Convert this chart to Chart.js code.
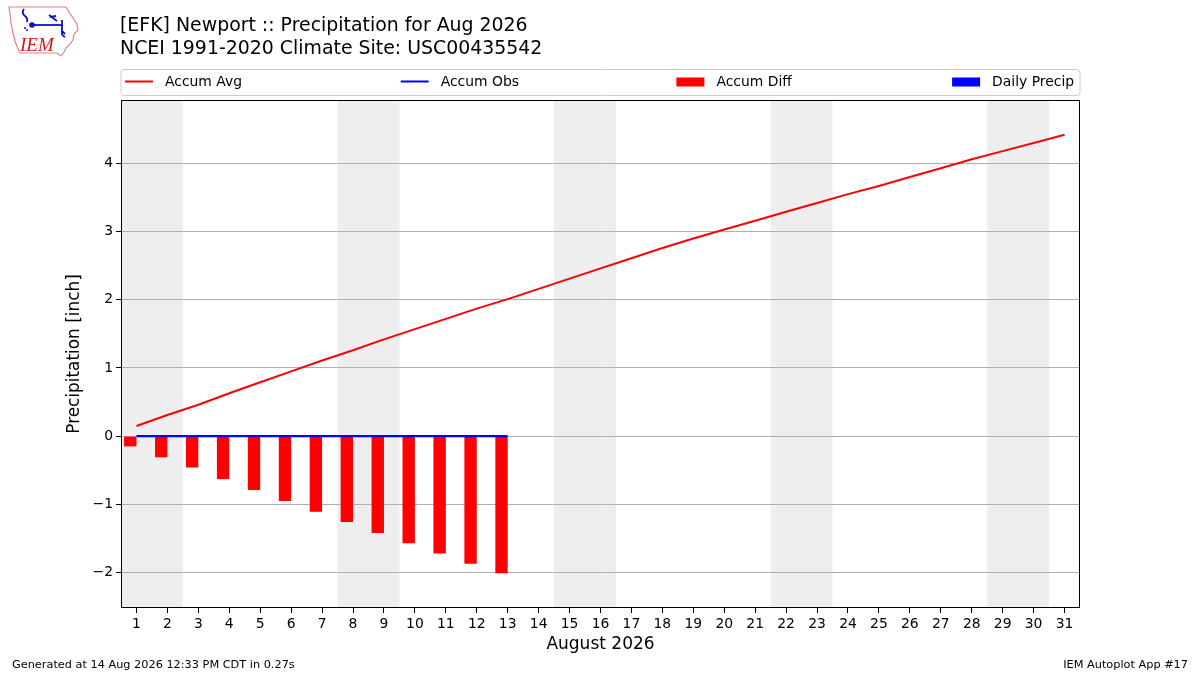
<!DOCTYPE html>
<html lang="en">
<head>
    <meta charset="UTF-8">
    <title>[EFK] Newport :: Precipitation for Aug 2026</title>
    <script src="https://cdn.jsdelivr.net/npm/chart.js"></script>
    <style>
        body {
            margin: 0;
            background: #fff;
            font-family: "DejaVu Sans", sans-serif;
            color: #000;
        }
        #wrap {
            position: relative;
            width: 1200px;
            height: 675px;
            overflow: hidden;
        }
        #logo {
            position: absolute;
            left: 6px;
            top: 4px;
        }
        #title {
            position: absolute;
            left: 120px;
            top: 13px;
            font-size: 18.9px;
            line-height: 23px;
        }
        .foot {
            position: absolute;
            top: 658px;
            font-size: 11.3px;
        }
    </style>
</head>
<body>
<div id="wrap">
    <canvas id="chart" width="1200" height="675"></canvas>

    <svg id="logo" width="76" height="56" viewBox="0 0 76 56">
        <polygon points="3,3 60,3 63,8 67,14 71,20 72,26 68,30 67,36 64,40 60,44 58,48 55,52 51,49 14,49 12,45 9,37 7,29 5,19 4,10"
                 fill="#fff" stroke="#e88080" stroke-width="1.2"/>
        <g stroke="#1010c0" stroke-width="1.8" fill="none">
            <path d="M18,5 q-3,4 1,7 q3,2 2,6"/>
            <path d="M25,21 H57"/>
            <path d="M43,11 l8,6 M44,13 l6,-1"/>
            <path d="M56,16 V31 M56,27 l3,3 M56,31 l3,2"/>
        </g>
        <circle cx="26" cy="21" r="2.8" fill="#1010c0"/>
        <circle cx="19" cy="24" r="1" fill="#1010c0"/>
        <circle cx="21" cy="26" r="1" fill="#1010c0"/>
        <text x="14" y="47" font-family="Liberation Serif, serif" font-style="italic" font-size="19" fill="#d01818">IEM</text>
    </svg>

    <div id="title">[EFK] Newport :: Precipitation for Aug 2026<br>NCEI 1991-2020 Climate Site: USC00435542</div>
    <div class="foot" style="left:12px;">Generated at 14 Aug 2026 12:33 PM CDT in 0.27s</div>
    <div class="foot" style="right:12px;">IEM Autoplot App #17</div>
</div>

<script>
    // dias del mes y marcas del eje
    const dayTicks = [1, 2, 3, 4, 5, 6, 7, 8, 9, 10, 11, 12, 13, 14, 15, 16,
                      17, 18, 19, 20, 21, 22, 23, 24, 25, 26, 27, 28, 29, 30, 31];
    const yTicks = [-2, -1, 0, 1, 2, 3, 4];

    // acumulado normal (31 dias)
    const accumAvg = [0.15, 0.31, 0.46, 0.63, 0.79, 0.95, 1.11, 1.26, 1.42, 1.57,
                      1.72, 1.87, 2.01, 2.16, 2.31, 2.46, 2.61, 2.76, 2.90, 3.03,
                      3.16, 3.29, 3.42, 3.55, 3.67, 3.80, 3.93, 4.06, 4.18, 4.30, 4.42];

    // observado hasta el dia 13
    const obsDays = [1, 2, 3, 4, 5, 6, 7, 8, 9, 10, 11, 12, 13];
    const accumObs = [0, 0, 0, 0, 0, 0, 0, 0, 0, 0, 0, 0, 0];
    const accumDiff = [-0.15, -0.31, -0.46, -0.63, -0.79, -0.95, -1.11,
                       -1.26, -1.42, -1.57, -1.72, -1.87, -2.01];
    const dailyPrecip = [0, 0, 0, 0, 0, 0, 0, 0, 0, 0, 0, 0, 0];

    // fines de semana (primer dia de cada bloque sabado-domingo)
    const weekendStarts = [1, 8, 15, 22, 29];

    const FONT = "'DejaVu Sans', sans-serif";
    const toPts = (xs, ys) => xs.map((x, i) => ({x: x, y: ys[i]}));

    // sombreado de fines de semana, debajo de la rejilla
    const weekendShade = {
        id: 'weekendShade',
        beforeDraw(chart) {
            const {ctx, chartArea: a, scales: {x}} = chart;
            ctx.save();
            ctx.fillStyle = '#eeeeee';
            weekendStarts.forEach(d => {
                const x0 = Math.max(a.left, x.getPixelForValue(d - 0.5));
                const x1 = Math.min(a.right, x.getPixelForValue(d + 1.5));
                ctx.fillRect(x0, a.top, x1 - x0, a.bottom - a.top);
            });
            ctx.restore();
        }
    };

    // marco del grafico y leyenda estilo matplotlib
    const frameAndLegend = {
        id: 'frameAndLegend',
        afterDraw(chart) {
            const {ctx, chartArea: a} = chart;
            ctx.save();
            ctx.strokeStyle = '#000';
            ctx.lineWidth = 1;
            ctx.strokeRect(Math.round(a.left) + 0.5, Math.round(a.top) + 0.5,
                           Math.round(a.right - a.left) - 1, Math.round(a.bottom - a.top) - 1);

            // caja de la leyenda
            const top = 69.5, h = 26, left = a.left, w = a.right - a.left;
            ctx.beginPath();
            ctx.roundRect(left, top, w, h, 3);
            ctx.fillStyle = 'rgba(255,255,255,0.8)';
            ctx.fill();
            ctx.strokeStyle = '#cccccc';
            ctx.stroke();

            const cy = top + h / 2;
            ctx.font = '13.9px ' + FONT;
            ctx.textBaseline = 'middle';
            chart.data.datasets.forEach((ds, i) => {
                const x0 = left + 4 + i * 275.7;
                if (ds.type === 'line') {
                    ctx.strokeStyle = ds.borderColor;
                    ctx.lineWidth = 2;
                    ctx.beginPath();
                    ctx.moveTo(x0, cy - 1);
                    ctx.lineTo(x0 + 28, cy - 1);
                    ctx.stroke();
                } else {
                    ctx.fillStyle = ds.backgroundColor;
                    ctx.fillRect(x0, cy - 5, 28, 9);
                }
                ctx.fillStyle = '#000';
                ctx.fillText(ds.label, x0 + 40, cy);
            });
            ctx.restore();
        }
    };

    new Chart(document.getElementById('chart'), {
        type: 'bar',
        data: {
            datasets: [{
                type: 'line',
                label: 'Accum Avg',
                data: toPts(dayTicks, accumAvg),
                borderColor: '#ff0000',
                borderWidth: 2,
                pointRadius: 0,
                tension: 0,
                order: 0
            }, {
                type: 'line',
                label: 'Accum Obs',
                data: toPts(obsDays, accumObs),
                borderColor: '#0000ff',
                borderWidth: 2.2,
                pointRadius: 0,
                tension: 0,
                order: 0
            }, {
                type: 'bar',
                label: 'Accum Diff',
                data: toPts(obsDays, accumDiff),
                backgroundColor: '#ff0000',
                categoryPercentage: 0.8,
                barPercentage: 1.0,
                order: 1
            }, {
                type: 'bar',
                label: 'Daily Precip',
                data: toPts(obsDays, dailyPrecip),
                backgroundColor: '#0000ff',
                categoryPercentage: 0.8,
                barPercentage: 1.0,
                order: 1
            }]
        },
        options: {
            responsive: false,
            animation: false,
            devicePixelRatio: 1,
            layout: {padding: {left: 0, right: 120, top: 100, bottom: 0}},
            plugins: {
                legend: {display: false},
                tooltip: {enabled: false}
            },
            scales: {
                x: {
                    type: 'linear',
                    min: 0.5,
                    max: 31.5,
                    offset: false,
                    afterFit: s => { s.height = 67; },
                    afterBuildTicks: s => { s.ticks = dayTicks.map(v => ({value: v})); },
                    grid: {
                        offset: false,
                        drawOnChartArea: false,
                        drawTicks: true,
                        tickLength: 5,
                        tickColor: '#000'
                    },
                    border: {display: false},
                    ticks: {
                        color: '#000',
                        padding: 3,
                        maxRotation: 0,
                        autoSkip: false,
                        font: {family: FONT, size: 13.9}
                    },
                    title: {
                        display: true,
                        text: 'August 2026',
                        color: '#000',
                        font: {family: FONT, size: 17},
                        padding: {top: 0, bottom: 20}
                    }
                },
                y: {
                    type: 'linear',
                    min: -2.52,
                    max: 4.93,
                    afterFit: s => { s.width = 121; },
                    afterBuildTicks: s => { s.ticks = yTicks.map(v => ({value: v})); },
                    grid: {
                        color: '#b0b0b0',
                        lineWidth: 1,
                        drawTicks: true,
                        tickLength: 5,
                        tickColor: '#000'
                    },
                    border: {display: false},
                    ticks: {
                        color: '#000',
                        padding: 3,
                        font: {family: FONT, size: 13.9},
                        callback: v => v < 0 ? '\u2212' + Math.abs(v) : String(v)
                    },
                    title: {
                        display: true,
                        text: 'Precipitation [inch]',
                        color: '#000',
                        font: {family: FONT, size: 16.9},
                        padding: {top: 64, bottom: 0}
                    }
                }
            }
        },
        plugins: [weekendShade, frameAndLegend]
    });
</script>
</body>
</html>
